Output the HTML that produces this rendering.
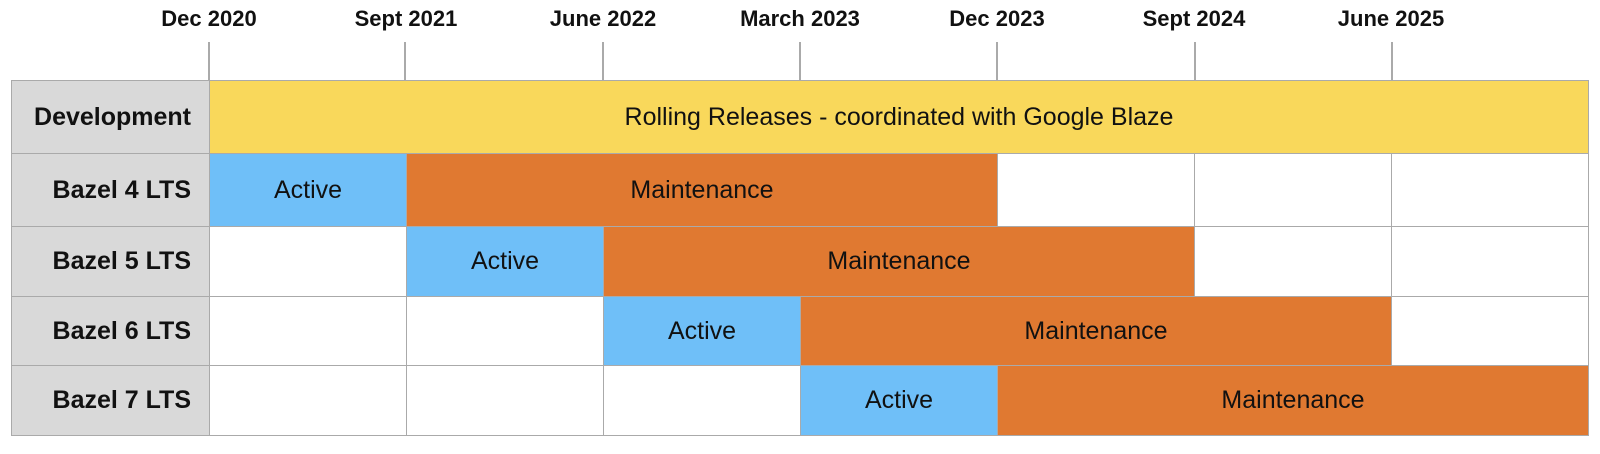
<!DOCTYPE html>
<html><head><meta charset="utf-8"><style>
body{margin:0;width:1600px;height:454px;background:#fff;position:relative;overflow:hidden;font-family:"Liberation Sans",Arial,sans-serif;}
.a{position:absolute;box-sizing:border-box;}
.t{font-weight:bold;font-size:22px;color:#111;text-align:center;width:200px;top:6px;}
.tk{width:2px;background:#aaa;top:42px;height:39px;}
.c{border:1px solid #aaa;display:flex;align-items:center;justify-content:center;font-size:25px;color:#111;}
.l{background:#d9d9d9;justify-content:flex-end;padding-right:18px;font-weight:bold;font-size:25px;}
.y{background:#f9d85b}.b{background:#6fbff8}.o{background:#e07931}.w{background:#fff}
</style></head><body>
<div class="a t" style="left:109px">Dec 2020</div>
<div class="a t" style="left:306px">Sept 2021</div>
<div class="a t" style="left:503px">June 2022</div>
<div class="a t" style="left:700px">March 2023</div>
<div class="a t" style="left:897px">Dec 2023</div>
<div class="a t" style="left:1094px">Sept 2024</div>
<div class="a t" style="left:1291px">June 2025</div>
<div class="a tk" style="left:208px"></div><div class="a tk" style="left:404px"></div><div class="a tk" style="left:602px"></div><div class="a tk" style="left:799px"></div><div class="a tk" style="left:996px"></div><div class="a tk" style="left:1194px"></div><div class="a tk" style="left:1391px"></div>
<div class="a" style="left:11px;top:80px;width:1578px;height:356px;border:1px solid #aaa;"></div>

<div class="a c l" style="left:11px;top:80px;width:199px;height:74px">Development</div>
<div class="a c y" style="left:209px;top:80px;width:1380px;height:74px">Rolling Releases - coordinated with Google Blaze</div>

<div class="a c l" style="left:11px;top:153px;width:199px;height:74px">Bazel 4 LTS</div>
<div class="a c b" style="left:209px;top:153px;width:198px;height:74px">Active</div>
<div class="a c o" style="left:406px;top:153px;width:592px;height:74px">Maintenance</div>
<div class="a c w" style="left:997px;top:153px;width:198px;height:74px"></div>
<div class="a c w" style="left:1194px;top:153px;width:198px;height:74px"></div>
<div class="a c w" style="left:1391px;top:153px;width:198px;height:74px"></div>

<div class="a c l" style="left:11px;top:226px;width:199px;height:71px">Bazel 5 LTS</div>
<div class="a c w" style="left:209px;top:226px;width:198px;height:71px"></div>
<div class="a c b" style="left:406px;top:226px;width:198px;height:71px">Active</div>
<div class="a c o" style="left:603px;top:226px;width:592px;height:71px">Maintenance</div>
<div class="a c w" style="left:1194px;top:226px;width:198px;height:71px"></div>
<div class="a c w" style="left:1391px;top:226px;width:198px;height:71px"></div>

<div class="a c l" style="left:11px;top:296px;width:199px;height:70px">Bazel 6 LTS</div>
<div class="a c w" style="left:209px;top:296px;width:198px;height:70px"></div>
<div class="a c w" style="left:406px;top:296px;width:198px;height:70px"></div>
<div class="a c b" style="left:603px;top:296px;width:198px;height:70px">Active</div>
<div class="a c o" style="left:800px;top:296px;width:592px;height:70px">Maintenance</div>
<div class="a c w" style="left:1391px;top:296px;width:198px;height:70px"></div>

<div class="a c l" style="left:11px;top:365px;width:199px;height:71px">Bazel 7 LTS</div>
<div class="a c w" style="left:209px;top:365px;width:198px;height:71px"></div>
<div class="a c w" style="left:406px;top:365px;width:198px;height:71px"></div>
<div class="a c w" style="left:603px;top:365px;width:198px;height:71px"></div>
<div class="a c b" style="left:800px;top:365px;width:198px;height:71px">Active</div>
<div class="a c o" style="left:997px;top:365px;width:592px;height:71px">Maintenance</div>
</body></html>
